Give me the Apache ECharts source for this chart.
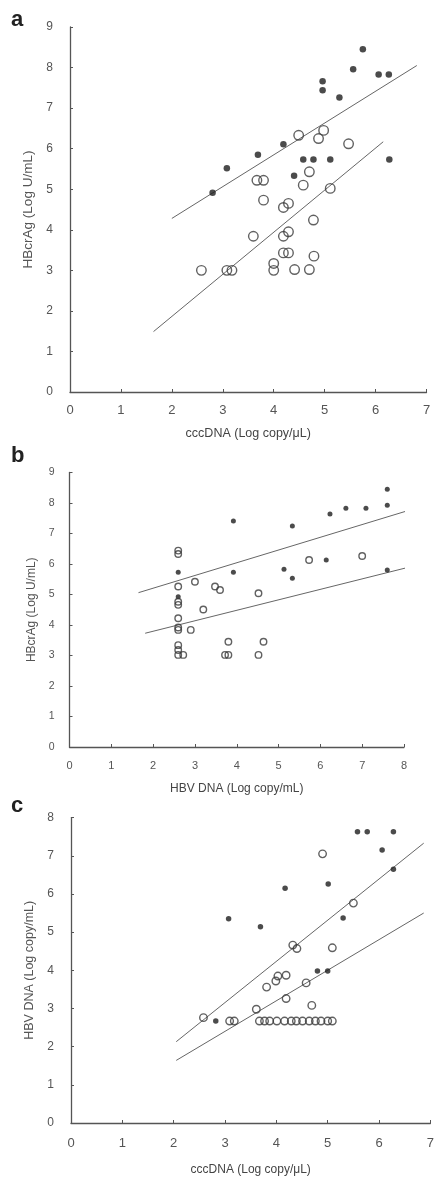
<!DOCTYPE html>
<html><head><meta charset="utf-8">
<script src="https://cdn.jsdelivr.net/npm/echarts@6/dist/echarts.min.js"></script>
<style>html,body{margin:0;padding:0;background:#fff}#c{width:437px;height:1177px}</style>
</head><body><div id="c"></div>
<script>
// Panel a: cccDNA vs HBcrAg
const aFilled = [[2.80,4.91],[3.08,5.52],[3.69,5.85],[4.19,6.11],[4.40,5.33],[4.58,5.73],[4.78,5.73],[4.96,7.66],[4.96,7.44],[5.11,5.73],[5.29,7.26],[5.56,7.96],[5.75,8.45],[6.06,7.83],[6.26,7.83],[6.27,5.73]];
const aOpen = [[4.49,6.33],[4.88,6.25],[4.98,6.45],[5.47,6.12],[3.67,5.22],[3.80,5.22],[4.70,5.43],[4.58,5.10],[5.11,5.02],[3.80,4.73],[4.19,4.55],[4.29,4.65],[4.78,4.24],[3.60,3.84],[4.19,3.84],[4.29,3.95],[4.19,3.43],[4.29,3.43],[4.00,3.17],[4.00,3.00],[4.41,3.02],[4.70,3.02],[4.79,3.35],[2.58,3.00],[3.08,3.00],[3.18,3.00]];
const aLineUpper = [[2.0,4.28],[6.81,8.05]];
const aLineLower = [[1.64,1.49],[6.15,6.17]];
// Panel b: HBV DNA vs HBcrAg
const bFilled = [[2.60,5.73],[2.60,4.93],[3.92,7.41],[3.92,5.73],[5.33,7.25],[5.13,5.83],[5.33,5.53],[6.23,7.64],[6.61,7.83],[7.09,7.83],[7.60,8.45],[7.60,7.93],[6.14,6.13],[7.60,5.80]];
const bOpen = [[2.60,6.44],[2.60,6.33],[2.60,5.26],[2.60,4.76],[2.60,4.66],[2.60,4.22],[2.60,3.92],[2.60,3.84],[2.60,3.34],[2.60,3.18],[2.60,3.02],[2.72,3.02],[3.00,5.42],[3.48,5.26],[3.60,5.15],[3.20,4.51],[2.90,3.84],[4.52,5.04],[5.73,6.13],[7.00,6.26],[3.80,3.45],[3.72,3.02],[3.80,3.02],[4.64,3.45],[4.52,3.02]];
const bLineUpper = [[1.65,5.06],[8.74,8.02]];
const bLineLower = [[1.81,3.73],[8.74,6.11]];
// Panel c: cccDNA vs HBV DNA
const cFilled = [[3.07,5.35],[3.69,5.14],[4.17,6.15],[5.01,6.26],[5.30,5.37],[4.80,3.98],[5.00,3.98],[5.58,7.63],[5.77,7.63],[6.28,7.63],[6.06,7.15],[6.28,6.65],[2.82,2.67]];
const cOpen = [[4.90,7.05],[5.50,5.76],[4.32,4.66],[4.40,4.57],[5.09,4.59],[2.58,2.76],[3.09,2.67],[3.18,2.67],[3.61,2.98],[3.81,3.56],[3.99,3.72],[4.03,3.85],[4.19,3.87],[4.19,3.26],[4.58,3.67],[4.69,3.08],[3.67,2.67],[3.77,2.67],[3.87,2.67],[4.01,2.67],[4.16,2.67],[4.29,2.67],[4.39,2.67],[4.51,2.67],[4.64,2.67],[4.76,2.67],[4.87,2.67],[5.00,2.67],[5.09,2.67]];
const cLineUpper = [[2.05,2.13],[6.87,7.33]];
const cLineLower = [[2.05,1.64],[6.87,5.50]];
// Axis titles
const xNames = ['cccDNA (Log copy/μL)', 'HBV DNA (Log copy/mL)', 'cccDNA (Log copy/μL)'];
const yNames = ['HBcrAg (Log U/mL)', 'HBcrAg (Log U/mL)', 'HBV DNA (Log copy/mL)'];
const panelLetters = ['a', 'b', 'c'];

const NARROW = '"Liberation Sans Narrow","Liberation Sans",Arial,sans-serif';
const SANS = '"Liberation Sans",Arial,sans-serif';
const axisCol = '#555';

function xAxis(idx, max, gap, nameFs, tickFs, margin) {
  return {
    type: 'value', gridIndex: idx, min: 0, max: max, interval: 1,
    name: xNames[idx], nameLocation: 'middle', nameGap: gap,
    nameTextStyle: {fontFamily: SANS, fontSize: nameFs, color: '#444'},
    axisLine: {lineStyle: {color: axisCol, width: 1.3}},
    axisTick: {inside: true, length: 3, lineStyle: {color: axisCol}},
    axisLabel: {fontFamily: NARROW, fontSize: tickFs, color: '#555', margin: margin},
    splitLine: {show: false}
  };
}
function yAxis(idx, max, gap, nameFs, tickFs, margin) {
  return {
    type: 'value', gridIndex: idx, min: 0, max: max, interval: 1,
    name: yNames[idx], nameLocation: 'middle', nameGap: gap, nameRotate: 90,
    nameTextStyle: {fontFamily: SANS, fontSize: nameFs, color: '#555'},
    axisLine: {lineStyle: {color: axisCol, width: 1.3}},
    axisTick: {inside: true, length: 3, lineStyle: {color: axisCol}},
    axisLabel: {fontFamily: NARROW, fontSize: tickFs, color: '#555', margin: margin},
    splitLine: {show: false}
  };
}
function filled(idx, data, size) {
  return {type: 'scatter', xAxisIndex: idx, yAxisIndex: idx, data: data, symbol: 'circle', symbolSize: size,
    itemStyle: {color: '#1e1e1e'}, z: 3, silent: true};
}
function open(idx, data, size) {
  return {type: 'scatter', xAxisIndex: idx, yAxisIndex: idx, data: data, symbol: 'circle', symbolSize: size,
    itemStyle: {color: 'rgba(255,255,255,0)', borderColor: '#3a3a3a', borderWidth: 1.4}, z: 4, silent: true};
}
function line(idx, data) {
  return {type: 'line', xAxisIndex: idx, yAxisIndex: idx, data: data, symbol: 'none', clip: false,
    lineStyle: {color: '#666', width: 1}, z: 2, silent: true};
}

const chart = echarts.init(document.getElementById('c'), null, {renderer: 'canvas'});
const letterFont = 'bold 22px "Liberation Sans",Arial,sans-serif';
chart.setOption({
  backgroundColor: '#fff',
  animation: false,
  grid: [
    {left: 70, right: 10.5, top: 27, bottom: 785},
    {left: 69.5, right: 33, top: 472.5, bottom: 430},
    {left: 71, right: 6, top: 817.6, bottom: 53}
  ],
  xAxis: [xAxis(0, 7, 35, 12.5, 13, 12), xAxis(1, 8, 36, 12, 11, 13), xAxis(2, 7, 41, 12, 13, 14)],
  yAxis: [yAxis(0, 9, 27, 13.5, 12, 17), yAxis(1, 9, 26, 12, 10.5, 15), yAxis(2, 8, 30, 12.5, 12, 17)],
  graphic: [
    {type: 'text', left: 11, top: 9, style: {text: panelLetters[0], font: letterFont, fill: '#222'}},
    {type: 'text', left: 11, top: 445, style: {text: panelLetters[1], font: letterFont, fill: '#222'}},
    {type: 'text', left: 11, top: 795, style: {text: panelLetters[2], font: letterFont, fill: '#222'}}
  ],
  series: [
    line(0, aLineUpper), line(0, aLineLower),
    filled(0, aFilled, 6.5), open(0, aOpen, 9.5),
    line(1, bLineUpper), line(1, bLineLower),
    filled(1, bFilled, 5), open(1, bOpen, 6.5),
    line(2, cLineUpper), line(2, cLineLower),
    filled(2, cFilled, 5.5), open(2, cOpen, 7.5)
  ]
});
</script></body></html>
